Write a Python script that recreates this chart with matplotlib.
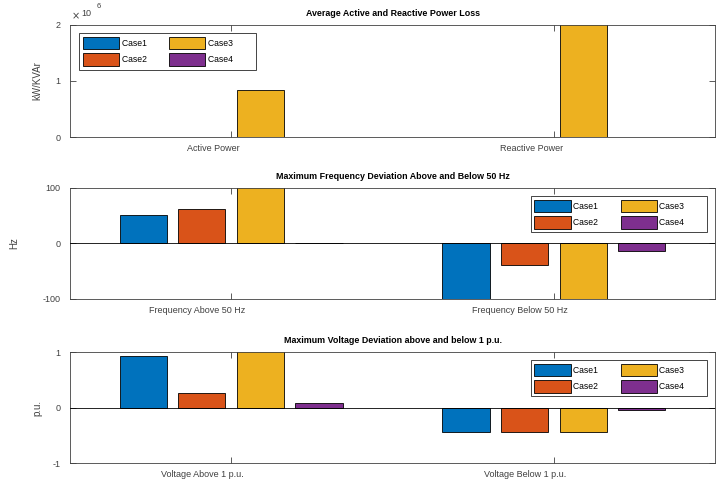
import numpy as np
import matplotlib
matplotlib.use('Agg')
import matplotlib.pyplot as plt
from matplotlib.transforms import ScaledTranslation

cases = ['Case1', 'Case2', 'Case3', 'Case4']
colors = ['#0072BD', '#D95319', '#EDB120', '#7E2F8E']

# power loss (kW / kVAr)
loss_cats = ['Active Power', 'Reactive Power']
loss_vals = [[1500, 1800],      # Case1
             [1500, 1800],      # Case2
             [0.84e6, 2.6e6],   # Case3
             [1500, 1800]]      # Case4

# frequency deviation (Hz)
freq_cats = ['Frequency Above 50 Hz', 'Frequency Below 50 Hz']
freq_vals = [[51, -130],
             [62, -39],
             [140, -140],
             [0.6, -13]]

# voltage deviation (p.u.)
volt_cats = ['Voltage Above 1 p.u.', 'Voltage Below 1 p.u.']
volt_vals = [[0.93, -0.44],
             [0.27, -0.44],
             [1.3, -0.44],
             [0.075, -0.05]]

plt.rcParams['font.family'] = ['Liberation Sans', 'DejaVu Sans']
axcol = '0.25'

fig = plt.figure(figsize=(7.16, 4.86), dpi=100)
pos = [[0.0978, 0.7181, 0.9008, 0.2305],
       [0.0978, 0.3848, 0.9008, 0.2284],
       [0.0978, 0.0473, 0.9008, 0.2284]]

titles = ['Average Active and Reactive Power Loss',
          'Maximum Frequency Deviation Above and Below 50 Hz',
          'Maximum Voltage Deviation above and below 1 p.u.']
ylabels = ['kW/KVAr', 'Hz', 'p.u.']
datasets = [(loss_cats, loss_vals), (freq_cats, freq_vals), (volt_cats, volt_vals)]
ylims = [(0, 2e6), (-100, 100), (-1, 1)]
yticks = [[0, 1e6, 2e6], [-100, 0, 100], [-1, 0, 1]]
yticklabels = [['0', '1', '2'], ['-100', '0', '100'], ['-1', '0', '1']]
label_x = [-0.043, -0.079, -0.043]

offsets = np.array([-0.272, -0.091, 0.091, 0.272])
width = 0.146

leg_kw = dict(ncol=2, fontsize=6.2, handlelength=4.2, handleheight=1.9,
              handletextpad=0.3, columnspacing=0.4, labelspacing=0.4,
              borderpad=0.45, fancybox=False, framealpha=1,
              edgecolor='0.15', borderaxespad=0)

axes = []
for i in range(3):
    ax = fig.add_axes(pos[i])
    axes.append(ax)
    cats, vals = datasets[i]
    x = np.arange(1, len(cats) + 1)
    for k in range(4):
        ax.bar(x + offsets[k], vals[k], width, color=colors[k],
               edgecolor='black', linewidth=0.6,
               label=cases[k] + '        ', zorder=2)
    ax.axhline(0, color='black', linewidth=0.6, zorder=3)
    ax.set_xlim(0.5, 2.5)
    ax.set_ylim(*ylims[i])
    ax.set_xticks(x)
    ax.set_xticklabels(cats)
    ax.set_yticks(yticks[i])
    ax.set_yticklabels(yticklabels[i])
    ax.tick_params(direction='in', top=True, right=True, length=4, width=0.6,
                   colors=axcol, labelsize=6.5)
    ax.tick_params(axis='y', pad=7)
    ax.tick_params(axis='x', pad=5)
    for s in ax.spines.values():
        s.set_color(axcol)
        s.set_linewidth(0.6)
    ax.set_title(titles[i], fontsize=6.4, fontweight='bold', pad=6.5)
    ax.set_ylabel(ylabels[i], fontsize=7, color=axcol)
    ax.yaxis.set_label_coords(label_x[i], 0.5)
    if i == 0:
        ax.text(0.002, 1.035, r'$\times$', transform=ax.transAxes, fontsize=7,
                color=axcol, ha='left', va='bottom')
        ax.text(0.018, 1.06, '10', transform=ax.transAxes, fontsize=6.5,
                color=axcol, ha='left', va='bottom')
        ax.text(0.042, 1.13, '6', transform=ax.transAxes, fontsize=5.5,
                color=axcol, ha='left', va='bottom')
        leg = ax.legend(loc='upper left', bbox_to_anchor=(0.014, 0.93), **leg_kw)
    else:
        leg = ax.legend(loc='upper right', bbox_to_anchor=(0.988, 0.93), **leg_kw)
    leg.get_frame().set_linewidth(0.6)
    leg.set_zorder(5)

# x tick labels sit a bit left of their ticks in the original
fig.canvas.draw()
r = fig.canvas.get_renderer()
for ax in axes:
    for lab in ax.get_xticklabels():
        w = lab.get_window_extent(r).width
        lab.set_transform(lab.get_transform() +
                          ScaledTranslation(-0.35 * w / fig.dpi, 0, fig.dpi_scale_trans))

fig.savefig('out.png', dpi=100)
